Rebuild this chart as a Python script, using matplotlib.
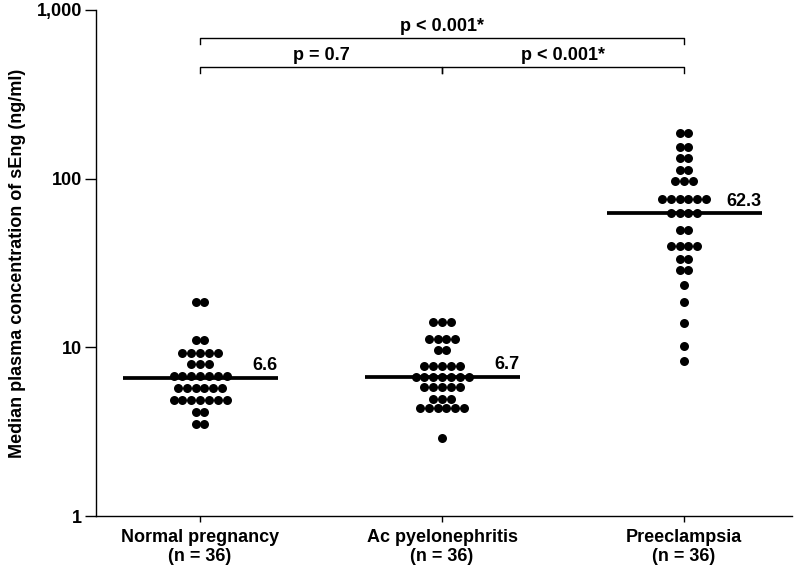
import numpy as np
import matplotlib
matplotlib.use("Agg")
import matplotlib.pyplot as plt
from matplotlib.ticker import FixedLocator, FuncFormatter, NullLocator

plt.rcParams['font.family'] = ['Liberation Sans', 'DejaVu Sans']
plt.rcParams['font.weight'] = 'bold'

groups = ['Normal pregnancy\n(n = 36)', 'Ac pyelonephritis\n(n = 36)', 'Preeclampsia\n(n = 36)']
medians = [6.6, 6.7, 62.3]
median_labels = ['6.6', '6.7', '62.3']

# dot rows: (value, number of dots in the row)
normal_rows = [(18.5, 2), (11.0, 2), (9.3, 5), (7.93, 3), (6.76, 7),
               (5.77, 6), (4.88, 7), (4.11, 2), (3.5, 2)]
pyelo_rows = [(14.2, 3), (11.26, 4), (9.6, 2), (7.75, 5), (6.71, 7),
              (5.82, 5), (4.92, 3), (4.34, 6), (2.89, 1)]
pre_rows = [(186, 2), (155, 2), (132.6, 2), (113, 2), (96.4, 3), (75.8, 6),
            (62.7, 4), (49.4, 2), (39.8, 4), (33.5, 2), (28.7, 2), (23.3, 1),
            (18.5, 1), (14.0, 1), (10.2, 1), (8.3, 1)]
all_rows = [normal_rows, pyelo_rows, pre_rows]

comparisons = [(0, 1, 'p = 0.7'), (1, 2, 'p < 0.001*'), (0, 2, 'p < 0.001*')]

FS = 13

fig = plt.figure(figsize=(8, 5.7), dpi=100)
ax = fig.add_axes([0.12, 0.0947, 0.87, 0.8878])

step = 0.0365
for i, rows in enumerate(all_rows):
    xs, ys = [], []
    for val, n in rows:
        offs = (np.arange(n) - (n - 1) / 2) * step
        xs.extend(i + offs)
        ys.extend([val] * n)
    ax.scatter(xs, ys, s=42, color='black', linewidths=0, zorder=3)
    ax.hlines(medians[i], i - 0.32, i + 0.32, color='black', lw=2.7, zorder=4)
    ax.text(i + 0.32, medians[i] * 1.05, median_labels[i], ha='right', va='bottom',
            fontsize=FS, fontweight='bold')

ax.set_yscale('log')
ax.set_ylim(1, 1000)
ax.set_xlim(-0.43, 2.446)
ax.yaxis.set_major_locator(FixedLocator([1, 10, 100, 1000]))
ax.yaxis.set_minor_locator(NullLocator())
ax.yaxis.set_major_formatter(FuncFormatter(lambda v, p: f'{int(round(v)):,}'))
ax.set_xticks(range(3))
ax.set_xticklabels(groups, fontsize=FS, fontweight='bold')
ax.tick_params(axis='y', length=8, width=1, labelsize=FS, pad=2)
ax.tick_params(axis='x', length=4, width=1, pad=5)
for lab in ax.get_yticklabels():
    lab.set_fontweight('bold')
ax.spines['top'].set_visible(False)
ax.spines['right'].set_visible(False)
ax.spines['left'].set_linewidth(1)
ax.spines['bottom'].set_linewidth(1)
ax.set_ylabel('Median plasma concentration of sEng (ng/ml)', fontsize=FS,
              fontweight='bold', labelpad=8)

# significance brackets
trans = ax.get_xaxis_transform()
levels = {(0, 1): 0.887, (1, 2): 0.887, (0, 2): 0.9447}
for a, b, txt in comparisons:
    y = levels[(a, b)]
    ax.plot([a, a, b, b], [y - 0.012, y, y, y - 0.012], color='black', lw=1,
            transform=trans, clip_on=False)
    ax.text((a + b) / 2, y + 0.006, txt, ha='center', va='bottom', fontsize=FS,
            fontweight='bold', transform=trans)

fig.savefig('out.png', dpi=100)
